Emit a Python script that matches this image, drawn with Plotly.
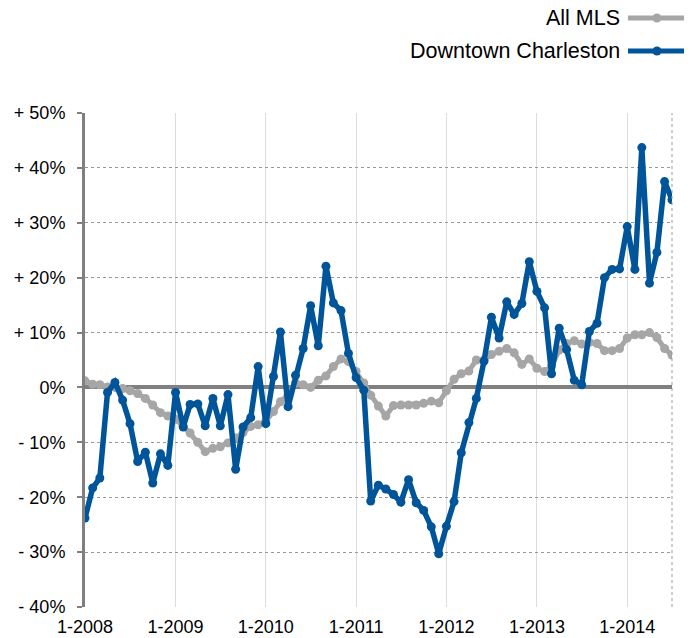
import pandas as pd
import plotly.graph_objects as go

months = pd.date_range("2008-01-01", "2014-07-01", freq="MS")

downtown = [-23.8, -18.3, -16.5, -0.9, 0.9, -2.3, -6.6, -13.5, -11.8, -17.4, -12.1, -14.2,
            -0.9, -7.2, -3.1, -3.0, -7.0, -2.0, -7.0, -1.3, -14.9, -7.2, -5.5, 3.8,
            -6.6, 2.0, 10.1, -3.5, 2.2, 7.1, 14.9, 7.6, 22.1, 15.4, 14.0, 6.2,
            1.8, -0.5, -20.7, -17.8, -18.5, -19.5, -20.9, -16.8, -21.0, -22.4, -25.4, -30.3,
            -25.3, -20.8, -11.9, -6.4, -2.0, 4.8, 12.8, 9.0, 15.6, 13.3, 15.3, 22.9,
            17.5, 14.5, 2.5, 10.8, 6.9, 1.3, 0.5, 10.2, 11.7, 20.0, 21.5, 21.6,
            29.3, 21.5, 43.7, 19.0, 24.6, 37.5, 34.2]

all_mls = [1.2, 0.6, 0.5, 0.1, 0.0, -0.2, -0.6, -1.1, -2.0, -3.2, -4.6, -5.2,
           -5.8, -7.0, -8.3, -10.0, -11.7, -11.1, -10.8, -10.1, -9.2, -8.2, -7.1, -6.8,
           -6.1, -4.4, -2.6, -1.3, 0.8, 0.5, 0.0, 1.3, 2.1, 3.8, 5.2, 4.7,
           2.9, 0.8, -1.4, -3.4, -5.2, -3.3, -3.2, -3.2, -3.2, -2.9, -2.5, -2.8,
           -0.6, 1.5, 2.5, 3.0, 5.0, 5.0, 6.0, 6.6, 7.1, 6.3, 4.2, 5.2,
           3.5, 2.9, 3.9, 6.8, 8.0, 8.5, 7.9, 8.2, 8.0, 6.7, 6.7, 7.1,
           9.0, 9.6, 9.6, 10.0, 9.1, 7.1, 5.9]

y_tickvals = [50, 40, 30, 20, 10, 0, -10, -20, -30, -40]
y_ticktext = ["+ 50%", "+ 40%", "+ 30%", "+ 20%", "+ 10%", "0%", "- 10%", "- 20%", "- 30%", "- 40%"]
x_tickvals = pd.date_range("2008-01-01", "2014-01-01", freq="YS")
x_ticktext = ["1-2008", "1-2009", "1-2010", "1-2011", "1-2012", "1-2013", "1-2014"]

GRAY = "#a6a6a6"
BLUE = "#00559a"
AXIS = "#808080"
FONT = "Liberation Sans, Arial, sans-serif"

fig = go.Figure()
fig.add_trace(go.Scatter(x=months, y=all_mls, name="All MLS", mode="lines+markers",
                         line=dict(color=GRAY, width=5), marker=dict(color=GRAY, size=9),
                         showlegend=False))
fig.add_trace(go.Scatter(x=months, y=downtown, name="Downtown Charleston", mode="lines+markers",
                         line=dict(color=BLUE, width=5.5), marker=dict(color=BLUE, size=9),
                         showlegend=False))

# legend drawn by hand (text left of the line sample)
legend_items = [("All MLS", GRAY, 1.1923), ("Downtown Charleston", BLUE, 1.1255)]
annotations = []
shapes = []
for label, col, yp in legend_items:
    annotations.append(dict(text=label, x=0.9148, y=yp, xref="paper", yref="paper",
                            xanchor="right", yanchor="middle", showarrow=False,
                            font=dict(family=FONT, size=21.5, color="black")))
    shapes.append(dict(type="line", xref="paper", yref="paper", x0=0.925, x1=1.0239,
                       y0=yp, y1=yp, line=dict(color=col, width=5)))
    shapes.append(dict(type="circle", xref="paper", yref="paper", xsizemode="pixel",
                       ysizemode="pixel", xanchor=0.9744, yanchor=yp, x0=-4.5, x1=4.5,
                       y0=-4.5, y1=4.5, fillcolor=col, line=dict(width=0)))

# dotted right border
shapes.append(dict(type="line", xref="paper", yref="paper", x0=1, x1=1, y0=0, y1=1,
                   line=dict(color="#999999", width=1, dash="dot")))

fig.update_layout(
    width=692, height=638,
    margin=dict(l=77, r=28, t=105, b=39),
    paper_bgcolor="white", plot_bgcolor="white",
    font=dict(family=FONT, size=18, color="black"),
    annotations=annotations, shapes=shapes,
    xaxis=dict(range=["2008-01-01", "2014-07-01"], tickvals=x_tickvals, ticktext=x_ticktext,
               showgrid=True, gridcolor="#dcdcdc", gridwidth=1, showline=False,
               zeroline=False, ticks="", ticklabelstandoff=7, automargin=False,
               tickfont=dict(family=FONT, size=18, color="black")),
    yaxis=dict(range=[-40, 50], tickvals=y_tickvals, ticktext=y_ticktext,
               showgrid=True, gridcolor="#999999", gridwidth=1, griddash="dot",
               zeroline=True, zerolinecolor=AXIS, zerolinewidth=4,
               showline=True, linecolor=AXIS, linewidth=3,
               ticks="outside", ticklen=5, tickwidth=2, tickcolor=AXIS,
               ticklabelstandoff=8, automargin=False,
               tickfont=dict(family=FONT, size=18, color="black")),
)

fig.write_html("out.html")
